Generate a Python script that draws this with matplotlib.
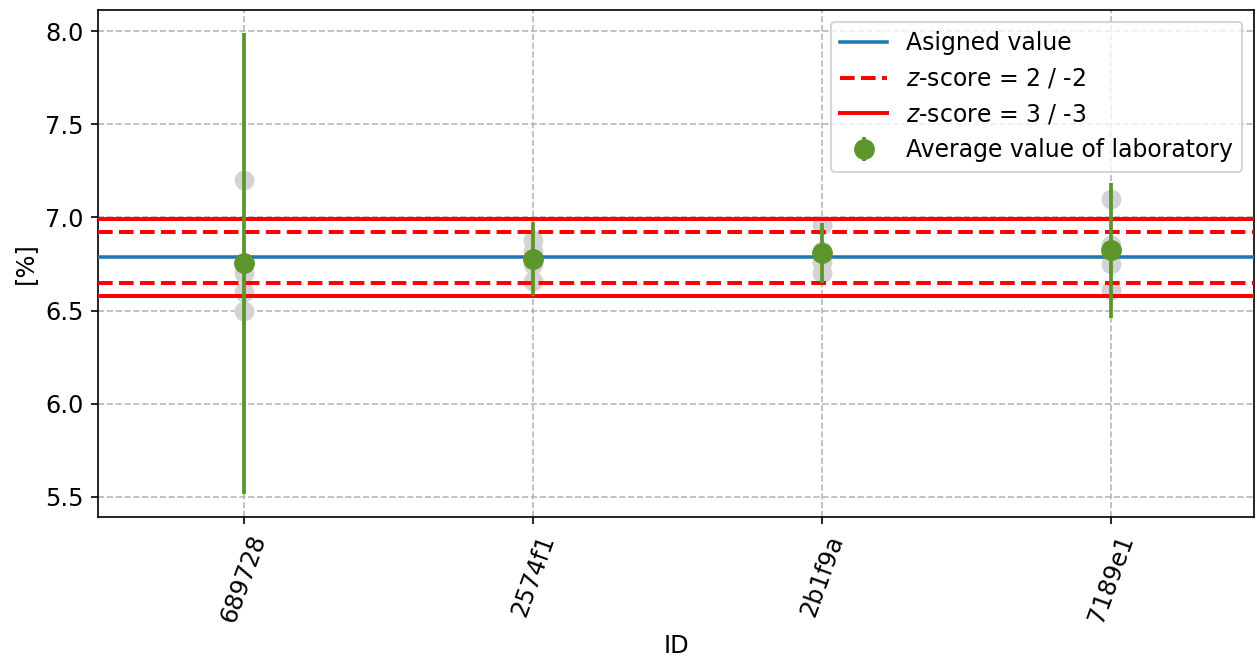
import matplotlib
matplotlib.use('Agg')

import numpy as np
import matplotlib.pyplot as plt

lab_ids = ["689728", "2574f1", "2b1f9a", "7189e1"]
replicates = [
    [7.20, 6.70, 6.60, 6.50],
    [6.88, 6.82, 6.75, 6.66],
    [6.96, 6.82, 6.76, 6.70],
    [7.10, 6.85, 6.75, 6.61],
]
lab_means = [6.753, 6.778, 6.810, 6.823]
lab_errors = [1.237, 0.200, 0.160, 0.363]

assigned_value = 6.785
sigma = 0.0685

plt.rcParams['font.size'] = 11.6

fig, ax = plt.subplots(figsize=(8.38, 4.427), dpi=150)
fig.subplots_adjust(left=0.078, right=0.9976, top=0.985, bottom=0.2214)

x = np.arange(len(lab_ids))

# individual replicate values
for i, vals in enumerate(replicates):
    ax.plot([x[i]] * len(vals), vals, 'o', color='lightgray', markersize=8.5, zorder=2)

ax.axhline(assigned_value, color='C0', lw=1.7, label='Asigned value', zorder=3)
ax.axhline(assigned_value + 2 * sigma, color='red', ls='--', lw=1.9,
           label='$z$-score = 2 / -2', zorder=3)
ax.axhline(assigned_value - 2 * sigma, color='red', ls='--', lw=1.9, zorder=3)
ax.axhline(assigned_value + 3 * sigma, color='red', lw=1.9,
           label='$z$-score = 3 / -3', zorder=3)
ax.axhline(assigned_value - 3 * sigma, color='red', lw=1.9, zorder=3)

ax.errorbar(x, lab_means, yerr=lab_errors, fmt='o', color='#5b952b',
            markersize=9, elinewidth=1.8, capsize=0,
            label='Average value of laboratory', zorder=4)

ax.set_xticks(x)
ax.set_xticklabels(lab_ids, rotation=70)
ax.set_xlim(-0.505, 3.495)
ax.set_xlabel("ID")
ax.set_ylabel("[%]")
ax.grid(True, ls='--', color='#b0b0b0', alpha=0.9)
ax.set_axisbelow(True)
ax.legend(loc='upper right', fontsize=11.3)

plt.savefig("out.png", dpi=150)
